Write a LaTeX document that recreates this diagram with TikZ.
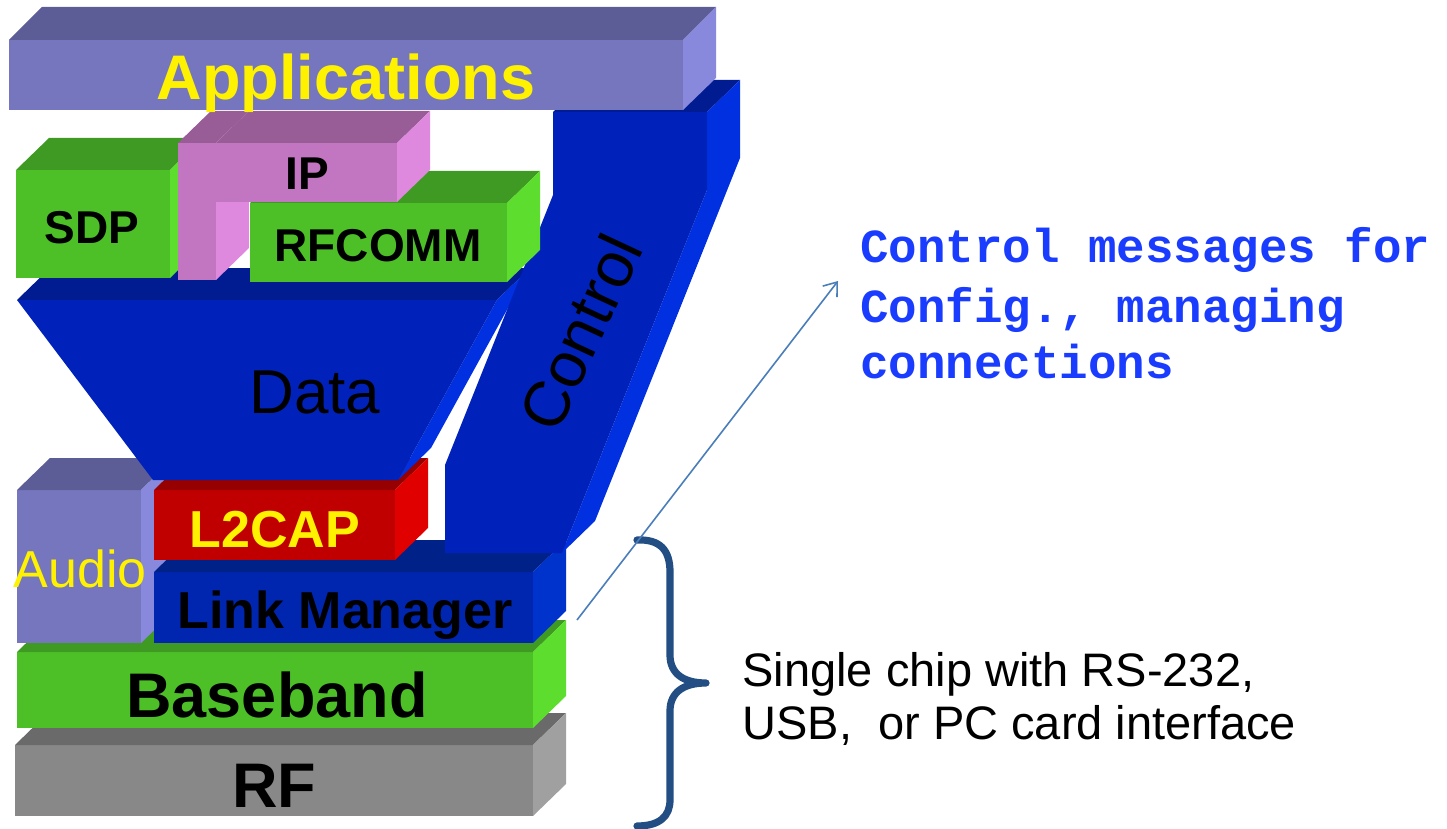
\documentclass[tikz,border=0pt]{standalone}
\usepackage{fontspec}
\setmainfont{Liberation Sans}
\newfontfamily\monofont{Liberation Mono}
\usetikzlibrary{arrows.meta}

% face colours: front, top, side
\definecolor{appF}{HTML}{7676BE}\definecolor{appT}{HTML}{5C5C96}\definecolor{appS}{HTML}{8888DD}
\definecolor{grnF}{HTML}{4DC028}\definecolor{grnT}{HTML}{3E9A22}\definecolor{grnS}{HTML}{5DDE2E}
\definecolor{pnkF}{HTML}{C275C0}\definecolor{pnkT}{HTML}{985C96}\definecolor{pnkS}{HTML}{DE88DE}
\definecolor{bluF}{HTML}{0022BB}\definecolor{bluT}{HTML}{001C90}\definecolor{bluS}{HTML}{0030E0}
\definecolor{redF}{HTML}{C00000}\definecolor{redT}{HTML}{960000}\definecolor{redS}{HTML}{E00000}
\definecolor{lmF}{HTML}{0026B0}\definecolor{lmT}{HTML}{002288}\definecolor{lmS}{HTML}{0033CC}
\definecolor{gryF}{HTML}{888888}\definecolor{gryT}{HTML}{6A6A6A}\definecolor{gryS}{HTML}{A0A0A0}
\definecolor{msgblue}{HTML}{1A3CFF}
\definecolor{bracecol}{HTML}{224E84}
\definecolor{arrowcol}{HTML}{4A7EBB}

% a block with visible front, top and right faces
% #1,#2 = front top-left, #3,#4 = front bottom-right, #5..#7 = front/top/side fills
\newcommand{\slab}[7]{%
  \fill[#5] (#1,#2) rectangle (#3,#4);
  \fill[#6] (#1,#2) -- ({#1+33},{#2-32}) -- ({#3+33},{#2-32}) -- (#3,#2) -- cycle;
  \fill[#7] (#3,#2) -- ({#3+33},{#2-32}) -- ({#3+33},{#4-32}) -- (#3,#4) -- cycle;}

\begin{document}
\begin{tikzpicture}[x=0.5pt,y=-0.5pt,
  lbl/.style={inner sep=0pt, anchor=base, font=\bfseries\fontsize{#1}{#1}\selectfont},
  reglbl/.style={inner sep=0pt, anchor=base, font=\fontsize{#1}{#1}\selectfont},
  msgline/.style={inner sep=0pt, anchor=base west, text=msgblue,
    font=\monofont\bfseries\fontsize{23.75}{23.75}\selectfont},
  chipline/.style={inner sep=0pt, anchor=base west,
    font=\fontsize{23.5}{23.5}\selectfont},
  arrowline/.style={draw=arrowcol, line width=0.8pt},
  bracepath/.style={draw=bracecol, line width=3.6pt, line cap=round, line join=round}]
\useasboundingbox (0,0) rectangle (1447,829);

% lower stack
\slab{15}{745}{533}{816}{gryF}{gryT}{gryS}
\slab{17}{652}{533}{728}{grnF}{grnT}{grnS}
\slab{17}{490}{141}{643}{appF}{appT}{appS}
\slab{154}{572}{533}{643}{lmF}{lmT}{lmS}
\slab{154}{490}{395}{560}{redF}{redT}{redS}

% data funnel
\fill[bluT] (17,300) -- (50,268) -- (530,268) -- (497,300) -- cycle;
\fill[bluS] (497,300) -- (530,268) -- (431,448) -- (398,480) -- cycle;
\fill[bluF] (17,300) -- (497,300) -- (398,480) -- (153,480) -- cycle;

% control channel
\fill[bluT] (553,112) -- (586,80) -- (740,80) -- (707,112) -- cycle;
\fill[bluS] (707,112) -- (740,80) -- (740,158) -- (595,521) -- (562,553) -- (707,190) -- cycle;
\fill[bluF] (553,112) -- (707,112) -- (707,190) -- (562,553) -- (445,553) -- (445,465) -- (553,195) -- cycle;

% upper protocols
\slab{16}{170}{170}{278}{grnF}{grnT}{grnS}
\slab{250}{203}{507}{282}{grnF}{grnT}{grnS}
\slab{178}{143}{216}{280}{pnkF}{pnkT}{pnkS}
\slab{216}{143}{397}{202}{pnkF}{pnkT}{pnkS}
\fill[appF] (9,40) rectangle (683,110);
\fill[appT] (9,40) -- (42,7) -- (716,7) -- (683,40) -- cycle;
\fill[appS] (683,40) -- (716,7) -- (716,78) -- (683,110) -- cycle;

% layer names
\node[lbl=31.5, text=yellow] (apps) at (346,100) {Applications};
\node[lbl=23] (sdp) at (92,243) {SDP};
\node[lbl=23] (ip) at (307,190) {IP};
\node[lbl=23] (rfcomm) at (378,262) {RFCOMM};
\node[reglbl=31] (data) at (315,413) {Data};
\node[reglbl=32, anchor=center, rotate=65] (control) at (580,332) {Control};
\node[lbl=26, text=yellow] (l2cap) at (275,547) {L2CAP};
\node[reglbl=26, text=yellow] (audio) at (80,587) {Audio};
\node[lbl=26] (lm) at (345,628) {Link Manager};
\node[lbl=31.5] (bb) at (277,717) {Baseband};
\node[lbl=31.5] (rf) at (274,807) {RF};

% annotation of the control path
\node[msgline] (msg1) at (860,263) {Control messages for};
\node[msgline] (msg2) at (860,322) {Config., managing};
\node[msgline] (msg3) at (860,378) {connections};

% hardware bracket
\draw[bracepath] (637,540) .. controls (660,539) and (670,550) .. (670,572)
  -- (670,655) .. controls (670,674) and (684,683) .. (706,683)
  .. controls (684,683) and (670,692) .. (670,711)
  -- (670,800) .. controls (670,816) and (660,826) .. (637,826);
\node[chipline] (chip1) at (742,686) {Single chip with RS-232,};
\node[chipline] (chip2) at (742,739) {USB,\ \ or PC card interface};

\coordinate (lmedge) at (577,620);
\coordinate (msgtip) at (838,281);
\draw[arrowline, -{Straight Barb[length=6pt,width=9pt]}] (lmedge) -- (msgtip);
\end{tikzpicture}
\end{document}
